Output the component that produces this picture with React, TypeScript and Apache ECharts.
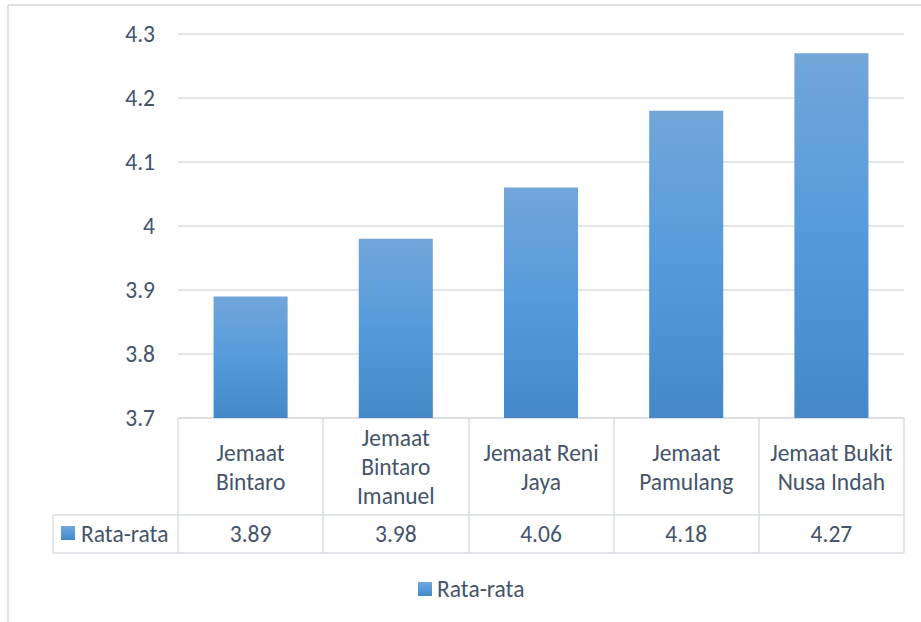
import React, { useEffect, useRef } from "react";
import * as echarts from "echarts";

const categories = [
  "Jemaat\nBintaro",
  "Jemaat\nBintaro\nImanuel",
  "Jemaat Reni\nJaya",
  "Jemaat\nPamulang",
  "Jemaat Bukit\nNusa Indah",
];
const seriesName = "Rata-rata";
const values = [3.89, 3.98, 4.06, 4.18, 4.27];
const yTicks = { min: 3.7, max: 4.3, interval: 0.1 };

const FONT = "Carlito, 'Open Sans', sans-serif";
const FS = 23.5;
const TEXT = "#44546A";
const LINE = "#D9DDE3";

const barFill = () =>
  new echarts.graphic.LinearGradient(0, 0, 0, 1, [
    { offset: 0, color: "#72A6DA" },
    { offset: 0.5, color: "#559BDB" },
    { offset: 1, color: "#4488C7" },
  ]);

export default function App() {
  const ref = useRef<HTMLDivElement>(null);

  useEffect(() => {
    if (!ref.current) return;
    const chart = echarts.init(ref.current, undefined, { renderer: "svg" });

    const gridLeft = 178;
    const gridRight = 904;
    const axisY = 418;
    const rowTop = 515;
    const rowBottom = 553;
    const tableLeft = 53;

    chart.setOption({
      animation: false,
      backgroundColor: "#FFFFFF",
      textStyle: { fontFamily: FONT },
      grid: { left: gridLeft, right: 921 - gridRight, top: 34, bottom: 622 - axisY },
      legend: {
        data: [seriesName],
        left: 413,
        top: 572,
        icon: "rect",
        itemWidth: 14,
        itemHeight: 14,
        itemGap: 10,
        textStyle: { fontSize: FS, color: TEXT, fontFamily: FONT, padding: 0 },
      },
      xAxis: [
        {
          type: "category",
          data: categories,
          position: "bottom",
          axisLine: { show: true, lineStyle: { color: LINE, width: 1.5 } },
          axisTick: {
            show: true,
            interval: 0,
            length: rowBottom - axisY,
            lineStyle: { color: LINE, width: 1.5 },
          },
          axisLabel: {
            interval: 0,
            margin: 49,
            verticalAlign: "middle",
            fontSize: FS,
            lineHeight: 29,
            color: TEXT,
            fontFamily: FONT,
          },
        },
        {
          type: "category",
          data: values.map((v) => v.toFixed(2)),
          position: "bottom",
          axisLine: { show: false },
          axisTick: { show: false },
          axisLabel: {
            interval: 0,
            margin: 116,
            verticalAlign: "middle",
            fontSize: FS,
            color: TEXT,
            fontFamily: FONT,
          },
        },
      ],
      yAxis: {
        type: "value",
        min: yTicks.min,
        max: yTicks.max,
        interval: yTicks.interval,
        axisLine: { show: false },
        axisTick: { show: false },
        splitLine: { lineStyle: { color: LINE, width: 1.5 } },
        axisLabel: {
          margin: 23,
          fontSize: FS,
          color: TEXT,
          fontFamily: FONT,
          formatter: (v: number) => String(Math.round(v * 10) / 10),
        },
      },
      series: [
        {
          name: seriesName,
          type: "bar",
          data: values,
          barWidth: "51%",
          itemStyle: { color: barFill() },
        },
      ],
      graphic: [
        // chart frame
        { type: "line", shape: { x1: 8, y1: 5, x2: 921, y2: 5 }, style: { stroke: "#D9D9D9", lineWidth: 1.5 } },
        { type: "line", shape: { x1: 8, y1: 5, x2: 8, y2: 622 }, style: { stroke: "#D9D9D9", lineWidth: 1.5 } },
        // data table row borders
        { type: "line", shape: { x1: tableLeft, y1: rowTop, x2: gridRight, y2: rowTop }, style: { stroke: LINE, lineWidth: 1.5 } },
        { type: "line", shape: { x1: tableLeft, y1: rowBottom, x2: gridRight, y2: rowBottom }, style: { stroke: LINE, lineWidth: 1.5 } },
        { type: "line", shape: { x1: tableLeft, y1: rowTop, x2: tableLeft, y2: rowBottom }, style: { stroke: LINE, lineWidth: 1.5 } },
        // row header with legend key
        { type: "rect", shape: { x: 61, y: 526, width: 14, height: 14 }, style: { fill: barFill() } },
        {
          type: "text",
          x: 81,
          y: 534,
          style: { text: seriesName, fontSize: FS, fill: TEXT, fontFamily: FONT, verticalAlign: "middle", align: "left" },
        },
      ],
    });

    return () => chart.dispose();
  }, []);

  return (
    <div
      ref={ref}
      style={{ position: "fixed", left: 0, top: 0, width: 921, height: 622 }}
    />
  );
}
